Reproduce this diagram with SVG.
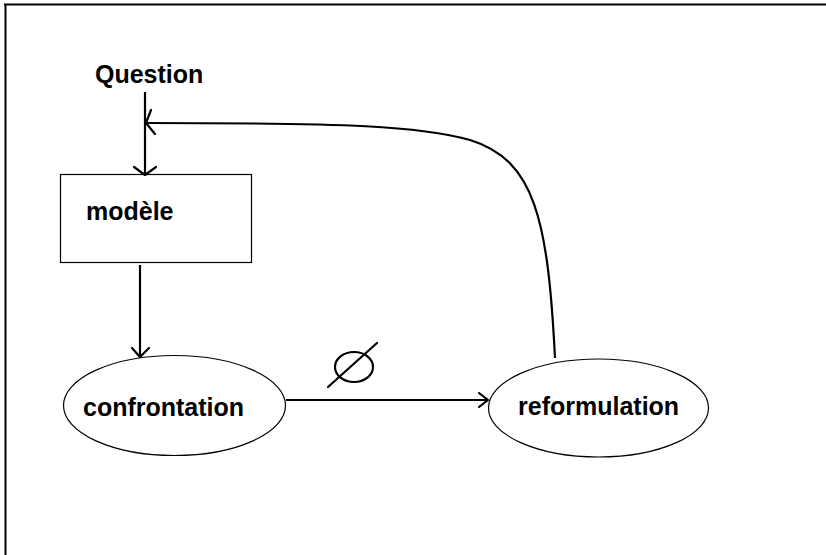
<svg xmlns="http://www.w3.org/2000/svg" width="826" height="555" viewBox="0 0 826 555">
<style>
text{font-family:"Liberation Sans",Arial,sans-serif;font-weight:bold;font-size:25px;fill:#000}
.shape{fill:#fff;stroke:#000;stroke-width:1.2}
.conn{fill:none;stroke:#000;stroke-width:2.2}
.head{fill:none;stroke:#000;stroke-width:2.2;stroke-linecap:round;stroke-linejoin:round}
</style>
<rect width="826" height="555" fill="#fff"/>
<g id="frame">
<line x1="4" y1="4.5" x2="826" y2="4.5" stroke="#000" stroke-width="2"/>
<line x1="5.5" y1="4" x2="5.5" y2="555" stroke="#000" stroke-width="2"/>
</g>
<g id="question"><text x="95" y="83">Question</text></g>
<g id="modele">
<rect class="shape" x="60.5" y="174.5" width="191" height="88"/>
<text x="86" y="220">modèle</text>
</g>
<g id="confrontation">
<ellipse class="shape" cx="174.5" cy="405.5" rx="111" ry="50"/>
<text x="83" y="416">confrontation</text>
</g>
<g id="reformulation">
<ellipse class="shape" cx="598.5" cy="408" rx="110" ry="49"/>
<text x="518" y="415">reformulation</text>
</g>
<g id="connectors">
<line class="conn" x1="145" y1="92" x2="145" y2="175"/>
<polyline class="head" points="134,167 145,175 156,167"/>
<line class="conn" x1="140" y1="265" x2="140" y2="357"/>
<polyline class="head" points="132,348 140,357 149,348"/>
<line class="conn" x1="286" y1="400" x2="488" y2="400"/>
<polyline class="head" points="479,393 488,400 479,407"/>
<path class="conn" d="M555,358 C548,220 535,160 470,140 C420,126 350,123 146,123"/>
<polyline class="head" points="151,110 146,123 155,134"/>
<g id="empty-set">
<ellipse cx="354" cy="367" rx="19" ry="15" fill="none" stroke="#000" stroke-width="2.2"/>
<line x1="328" y1="387" x2="377" y2="343" stroke="#000" stroke-width="2.2" stroke-linecap="round"/>
</g>
</g>
</svg>
